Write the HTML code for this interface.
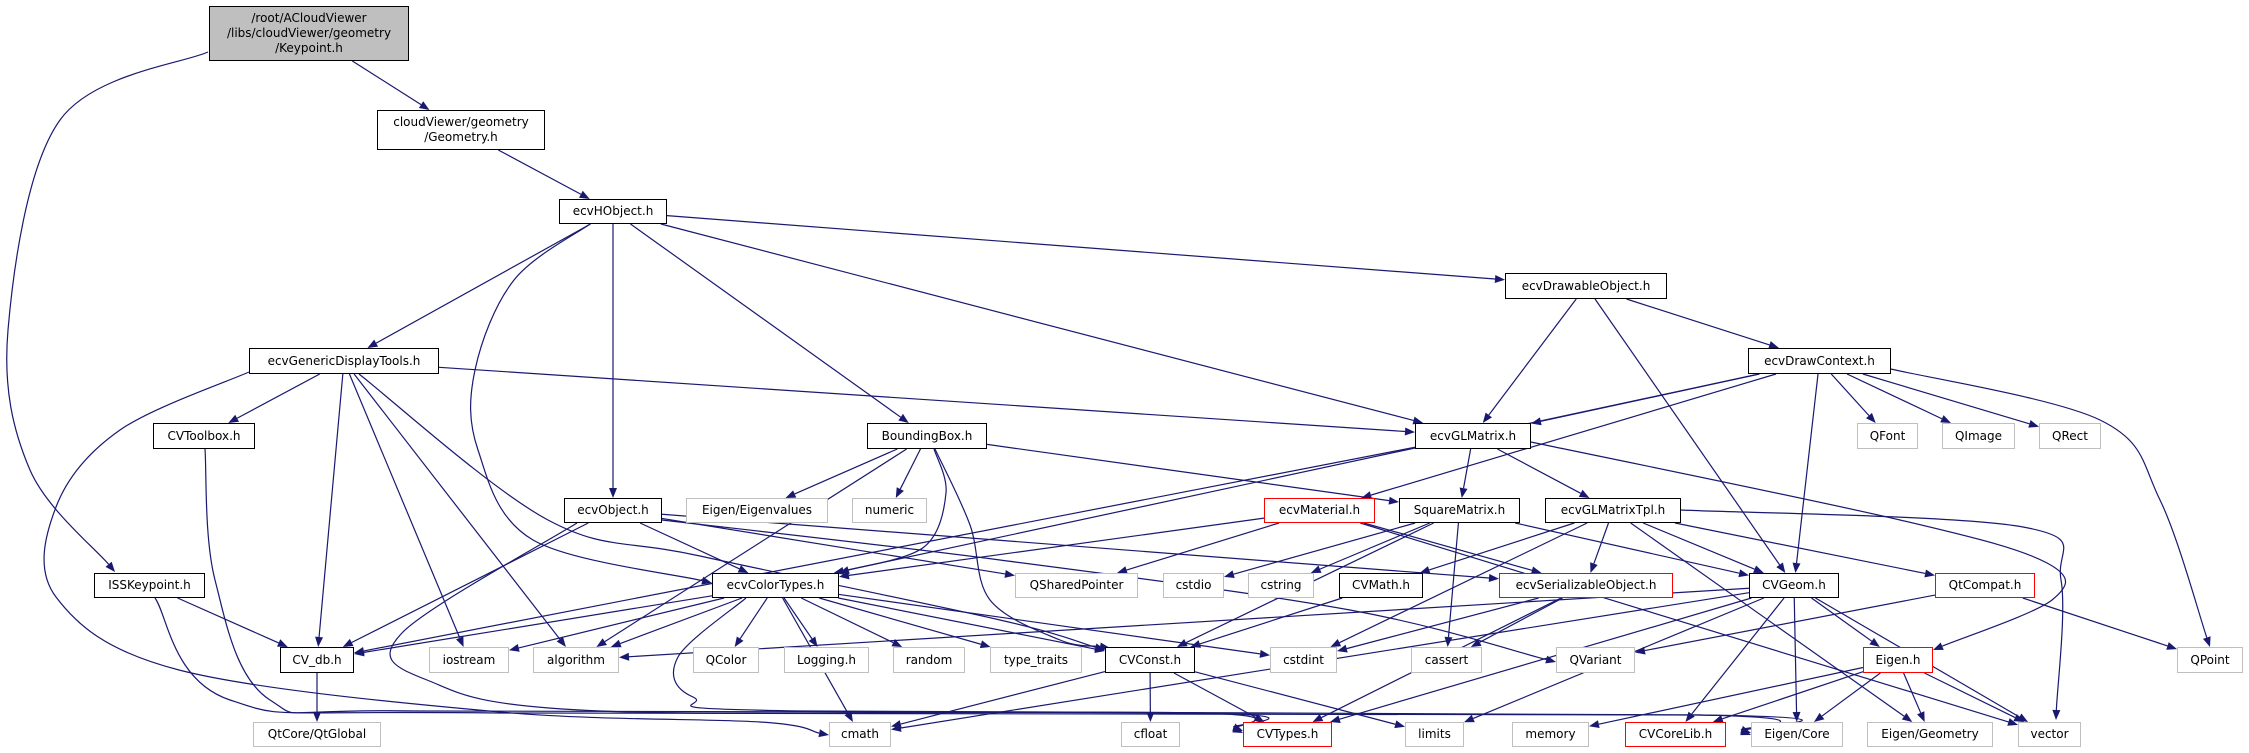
<!DOCTYPE html>
<html><head><meta charset="utf-8"><style>
html,body{margin:0;padding:0;background:#fff;}
#c{position:relative;width:2249px;height:753px;overflow:hidden;}
.n{position:absolute;box-sizing:border-box;border:1px solid #000;background:#fff;font-family:"DejaVu Sans","Liberation Sans",sans-serif;font-size:12px;color:#000;display:flex;align-items:center;justify-content:center;text-align:center;line-height:15px;white-space:nowrap;}
.g{border-color:#bfbfbf;}
.r{border-color:#ff0000;}
svg{position:absolute;left:0;top:0;}
</style></head><body><div id="c">
<svg id="s" width="2249" height="753"></svg>
<div class="n" id="KP" style="left:209px;top:6px;width:200px;height:55px;background:#bfbfbf;">/root/ACloudViewer<br>/libs/cloudViewer/geometry<br>/Keypoint.h</div>
<div class="n" id="GEO" style="left:377px;top:110px;width:168px;height:40px;">cloudViewer/geometry<br>/Geometry.h</div>
<div class="n" id="HOBJ" style="left:559px;top:199px;width:108px;height:25px;">ecvHObject.h</div>
<div class="n" id="DRAW" style="left:1505px;top:273px;width:162px;height:26px;">ecvDrawableObject.h</div>
<div class="n" id="GDT" style="left:249px;top:348px;width:190px;height:26px;">ecvGenericDisplayTools.h</div>
<div class="n" id="DCTX" style="left:1748px;top:348px;width:143px;height:26px;">ecvDrawContext.h</div>
<div class="n" id="CVTB" style="left:153px;top:423px;width:102px;height:26px;">CVToolbox.h</div>
<div class="n" id="BBOX" style="left:867px;top:423px;width:120px;height:26px;">BoundingBox.h</div>
<div class="n" id="GLM" style="left:1415px;top:423px;width:116px;height:26px;">ecvGLMatrix.h</div>
<div class="n g" id="QFONT" style="left:1857px;top:423px;width:61px;height:26px;">QFont</div>
<div class="n g" id="QIMAGE" style="left:1942px;top:423px;width:73px;height:26px;">QImage</div>
<div class="n g" id="QRECT" style="left:2039px;top:423px;width:62px;height:26px;">QRect</div>
<div class="n" id="ECVOBJ" style="left:564px;top:498px;width:98px;height:25px;">ecvObject.h</div>
<div class="n g" id="EIGV" style="left:686px;top:498px;width:142px;height:25px;">Eigen/Eigenvalues</div>
<div class="n g" id="NUMERIC" style="left:852px;top:498px;width:75px;height:25px;">numeric</div>
<div class="n r" id="MAT" style="left:1264px;top:498px;width:111px;height:25px;">ecvMaterial.h</div>
<div class="n" id="SQM" style="left:1399px;top:498px;width:121px;height:25px;">SquareMatrix.h</div>
<div class="n" id="GLMT" style="left:1545px;top:498px;width:136px;height:25px;">ecvGLMatrixTpl.h</div>
<div class="n" id="ISS" style="left:94px;top:573px;width:111px;height:25px;">ISSKeypoint.h</div>
<div class="n" id="COLT" style="left:712px;top:573px;width:127px;height:25px;">ecvColorTypes.h</div>
<div class="n g" id="QSP" style="left:1015px;top:573px;width:123px;height:25px;">QSharedPointer</div>
<div class="n g" id="CSTDIO" style="left:1163px;top:573px;width:61px;height:25px;">cstdio</div>
<div class="n g" id="CSTRING" style="left:1248px;top:573px;width:66px;height:25px;">cstring</div>
<div class="n" id="CVMATH" style="left:1339px;top:573px;width:84px;height:25px;">CVMath.h</div>
<div class="n r" id="SER" style="left:1499px;top:573px;width:174px;height:25px;">ecvSerializableObject.h</div>
<div class="n" id="CVGEOM" style="left:1749px;top:573px;width:90px;height:25px;">CVGeom.h</div>
<div class="n r" id="QTC" style="left:1935px;top:573px;width:100px;height:25px;">QtCompat.h</div>
<div class="n" id="CVDB" style="left:280px;top:647px;width:74px;height:26px;">CV_db.h</div>
<div class="n g" id="IOS" style="left:429px;top:647px;width:80px;height:26px;">iostream</div>
<div class="n g" id="ALG" style="left:533px;top:647px;width:86px;height:26px;">algorithm</div>
<div class="n g" id="QCOLOR" style="left:693px;top:647px;width:66px;height:26px;">QColor</div>
<div class="n g" id="LOG" style="left:784px;top:647px;width:85px;height:26px;">Logging.h</div>
<div class="n g" id="RAND" style="left:893px;top:647px;width:72px;height:26px;">random</div>
<div class="n g" id="TT" style="left:990px;top:647px;width:92px;height:26px;">type_traits</div>
<div class="n" id="CVCONST" style="left:1105px;top:647px;width:90px;height:26px;">CVConst.h</div>
<div class="n g" id="CSTDINT" style="left:1270px;top:647px;width:67px;height:26px;">cstdint</div>
<div class="n g" id="CASSERT" style="left:1411px;top:647px;width:71px;height:26px;">cassert</div>
<div class="n g" id="QVAR" style="left:1556px;top:647px;width:79px;height:26px;">QVariant</div>
<div class="n r" id="EIGENH" style="left:1863px;top:647px;width:70px;height:26px;">Eigen.h</div>
<div class="n g" id="QPOINT" style="left:2177px;top:647px;width:66px;height:26px;">QPoint</div>
<div class="n g" id="QTG" style="left:253px;top:722px;width:128px;height:25px;">QtCore/QtGlobal</div>
<div class="n g" id="CMATH" style="left:829px;top:722px;width:62px;height:25px;">cmath</div>
<div class="n g" id="CFLOAT" style="left:1121px;top:722px;width:59px;height:25px;">cfloat</div>
<div class="n r" id="CVTYPES" style="left:1243px;top:722px;width:89px;height:25px;">CVTypes.h</div>
<div class="n g" id="LIMITS" style="left:1405px;top:722px;width:59px;height:25px;">limits</div>
<div class="n g" id="MEMORY" style="left:1512px;top:722px;width:77px;height:25px;">memory</div>
<div class="n r" id="CORELIB" style="left:1625px;top:722px;width:101px;height:25px;">CVCoreLib.h</div>
<div class="n g" id="ECORE" style="left:1751px;top:722px;width:92px;height:25px;">Eigen/Core</div>
<div class="n g" id="EGEOM" style="left:1867px;top:722px;width:126px;height:25px;">Eigen/Geometry</div>
<div class="n g" id="VECTOR" style="left:2018px;top:722px;width:63px;height:25px;">vector</div>
</div>
<script>
var E=[["KP","GEO"],["GEO","HOBJ"],
["HOBJ","GDT"],["HOBJ","ECVOBJ"],["HOBJ","BBOX"],["HOBJ","GLM"],["HOBJ","DRAW"],
["DRAW","GLM"],["DRAW","CVGEOM"],["DRAW","DCTX"],
["DCTX","GLM"],["DCTX","COLT"],["DCTX","MAT"],["DCTX","CVGEOM"],["DCTX","QFONT"],["DCTX","QIMAGE"],["DCTX","QRECT"],
["GDT","CVTB"],["GDT","CVDB"],["GDT","IOS"],["GDT","ALG"],["GDT","GLM"],
["ISS","CVDB"],
["GLM","CVDB"],["GLM","SQM"],["GLM","GLMT"],
["BBOX","EIGV"],["BBOX","NUMERIC"],["BBOX","SQM"],["BBOX","ALG"],
["ECVOBJ","CVDB"],["ECVOBJ","COLT"],["ECVOBJ","QSP"],["ECVOBJ","SER"],
["MAT","COLT"],["MAT","QSP"],["MAT","SER"],["MAT","VECTOR"],
["SQM","CSTDIO"],["SQM","CSTRING"],["SQM","CVGEOM"],["SQM","CASSERT"],["SQM","CVCONST"],
["GLMT","CVMATH"],["GLMT","SER"],["GLMT","CVGEOM"],["GLMT","QTC"],["GLMT","EGEOM"],["GLMT","CSTDINT"],
["COLT","CVDB"],["COLT","IOS"],["COLT","ALG"],["COLT","QCOLOR"],["COLT","LOG"],["COLT","RAND"],["COLT","TT"],["COLT","CVCONST"],["COLT","CSTDINT"],["COLT","CMATH"],
["CVMATH","CVCONST"],["SER","CVTYPES"],["SER","CASSERT"],["SER","CSTDINT"],
["CVGEOM","ALG"],["CVGEOM","CVTYPES"],["CVGEOM","CMATH"],["CVGEOM","LIMITS"],["CVGEOM","CORELIB"],["CVGEOM","ECORE"],["CVGEOM","EIGENH"],["CVGEOM","VECTOR"],
["QTC","QVAR"],["QTC","QPOINT"],
["EIGENH","MEMORY"],["EIGENH","CORELIB"],["EIGENH","ECORE"],["EIGENH","EGEOM"],["EIGENH","VECTOR"],
["CVCONST","CMATH"],["CVCONST","CFLOAT"],["CVCONST","CVTYPES"],["CVCONST","LIMITS"],
["CVDB","QTG"]];
var P=[
[[208,52],[60,120],[8,330],[30,470],[115,572]],
[[249,372],[120,430],[56,507],[56,597],[179,670],[500,712],[760,722],[829,735]],
[[590,224],[514,280],[475,370],[478,450],[533,540],[712,583]],
[[205,449],[215,580],[270,700],[420,711],[1200,713],[1243,731]],
[[155,598],[230,700],[500,713],[1700,715],[1751,733]],
[[1531,442],[1900,520],[2047,563],[2052,600],[1933,650]],
[[1681,510],[2023,527],[2061,580],[2056,720]],
[[1891,369],[2100,420],[2160,500],[2210,647]],
[[934,449],[946,493],[924,547],[839,573]],
[[935,449],[970,525],[990,600],[1060,640],[1110,648]],
[[577,523],[402,633],[427,680],[600,711],[1200,713],[1243,733]],
[[746,598],[678,657],[693,697],[800,711],[1700,715],[1751,735]],
[[359,374],[548,520],[700,556],[1000,620],[1105,650]],
[[662,520],[1000,560],[1350,610],[1556,662]]
];
function R(id){var e=document.getElementById(id);return{x:e.offsetLeft,y:e.offsetTop,w:e.offsetWidth,h:e.offsetHeight};}
function clip(r,dx,dy){var cx=r.x+r.w/2,cy=r.y+r.h/2;var tx=dx?Math.abs((r.w/2)/dx):1e9,ty=dy?Math.abs((r.h/2)/dy):1e9;var t=Math.min(tx,ty);return[cx+dx*t,cy+dy*t];}
var s="",C="#191970";
function head(q,ux,uy){var ex=q[0]-ux*10,ey=q[1]-uy*10;
return '<polygon fill="'+C+'" points="'+q[0]+','+q[1]+' '+(ex-uy*4)+','+(ey+ux*4)+' '+(ex+uy*4)+','+(ey-ux*4)+'"/>';}
E.forEach(function(e){var a=R(e[0]),b=R(e[1]);
var ax=a.x+a.w/2,ay=a.y+a.h/2,bx=b.x+b.w/2,by=b.y+b.h/2;var dx=bx-ax,dy=by-ay;
var p=clip(a,dx,dy),q=clip(b,-dx,-dy);
var L=Math.hypot(q[0]-p[0],q[1]-p[1]);var ux=(q[0]-p[0])/L,uy=(q[1]-p[1])/L;
var ex=q[0]-ux*10,ey=q[1]-uy*10;
s+='<line x1="'+p[0]+'" y1="'+p[1]+'" x2="'+ex+'" y2="'+ey+'" stroke="'+C+'" stroke-width="1.2"/>';
s+=head(q,ux,uy);
});
P.forEach(function(pts){
var n=pts.length,q=pts[n-1],pr=pts[n-2];
var L=Math.hypot(q[0]-pr[0],q[1]-pr[1]),ux=(q[0]-pr[0])/L,uy=(q[1]-pr[1])/L;
var end=[q[0]-ux*10,q[1]-uy*10];
var pp=pts.slice(0,n-1).concat([end]);
var d="M"+pp[0][0]+","+pp[0][1];
for(var i=0;i<pp.length-1;i++){var p0=pp[Math.max(0,i-1)],p1=pp[i],p2=pp[i+1],p3=pp[Math.min(pp.length-1,i+2)];
d+=" C"+(p1[0]+(p2[0]-p0[0])/6)+","+(p1[1]+(p2[1]-p0[1])/6)+" "+(p2[0]-(p3[0]-p1[0])/6)+","+(p2[1]-(p3[1]-p1[1])/6)+" "+p2[0]+","+p2[1];}
s+='<path d="'+d+'" fill="none" stroke="'+C+'" stroke-width="1.2"/>';
s+=head(q,ux,uy);
});
document.getElementById("s").innerHTML=s;
</script>
</body></html>
